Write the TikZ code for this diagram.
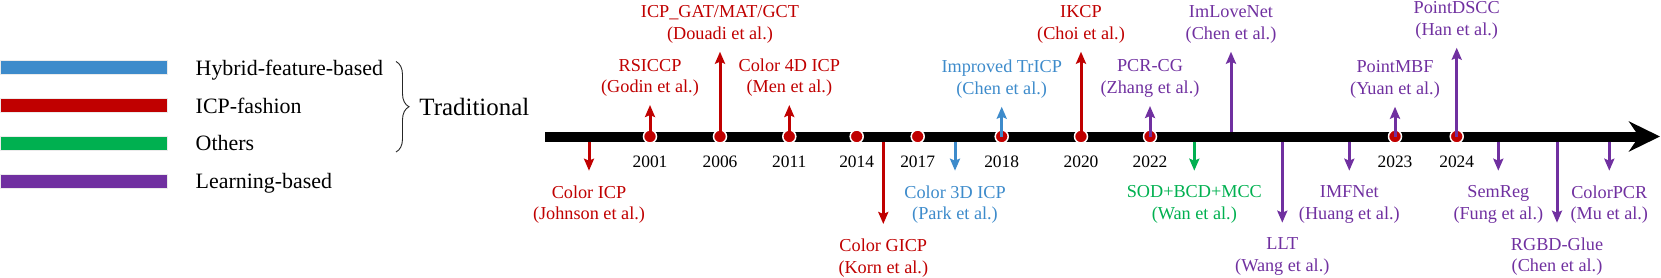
\documentclass[tikz,border=0pt]{standalone}
\usepackage{fontspec}
\setmainfont{Liberation Serif}
\usetikzlibrary{arrows.meta, positioning, decorations.pathreplacing}
\definecolor{hybblue}{RGB}{61,139,203}
\definecolor{icpred}{RGB}{192,0,0}
\definecolor{othgreen}{RGB}{0,176,80}
\definecolor{lrnpurple}{RGB}{112,48,160}

\begin{document}
\begin{tikzpicture}[x=1bp, y=-1bp,
    legbar/.style={draw=black!8, line width=1bp, minimum width=166bp, minimum height=14bp, inner sep=0pt},
    legtxt/.style={font=\fontsize{22}{26}\selectfont, inner sep=0pt, anchor=base west},
    yeardot/.style={circle, fill=icpred, draw=white, line width=1.5bp, minimum size=13bp, inner sep=0pt},
    yeartxt/.style={font=\fontsize{17.5}{20}\selectfont, inner sep=0pt},
    paper/.style={font=\fontsize{18.3}{22}\selectfont, align=center, inner sep=0pt},
    stem/.style={line width=3bp, -{Stealth[length=12bp, width=10bp, inset=2bp]}}]
    \useasboundingbox (0,0) rectangle (1661,277);

    \node[legbar, fill=hybblue] (hybbar) at (84,67.7) {};
    \node[legbar, fill=icpred] (icpbar) at (84,105.7) {};
    \node[legbar, fill=othgreen] (othbar) at (84,143.3) {};
    \node[legbar, fill=lrnpurple] (lrnbar) at (84,181) {};
    \node[legtxt] (hybtxt) at ([xshift=28bp, yshift=-7.3bp]hybbar.east) {Hybrid-feature-based};
    \node[legtxt] (icptxt) at ([xshift=28bp, yshift=-7.3bp]icpbar.east) {ICP-fashion};
    \node[legtxt] (othtxt) at ([xshift=28bp, yshift=-7.3bp]othbar.east) {Others};
    \node[legtxt] (lrntxt) at ([xshift=28bp, yshift=-7.3bp]lrnbar.east) {Learning-based};

    \coordinate (brtop) at (396,61.5);
    \coordinate (brbot) at (396,152);
    \draw[decorate, decoration={brace, amplitude=13bp}, line width=0.9bp, black!85] (brtop) -- (brbot)
        node[midway, right=23bp, inner sep=0pt, text=black, font=\fontsize{25}{30}\selectfont] (trad) {Traditional};

    \coordinate (tlstart) at (545,136.5);
    \coordinate (tlend) at (1660,136.5);
    \coordinate (tltop) at (545,131.5);
    \coordinate (tlbot) at (545,141.5);
    \draw[line width=10bp, -{Stealth[length=31bp, width=30bp, inset=10bp]}] (tlstart) -- (tlend);

    \node[yeardot] (d2001) at (650,136.5) {};
    \node[yeardot] (d2006) at (720,136.5) {};
    \node[yeardot] (d2011) at (789.3,136.5) {};
    \node[yeardot] (d2014) at (856.7,136.5) {};
    \node[yeardot] (d2017) at (917.7,136.5) {};
    \node[yeardot] (d2018) at (1001.7,136.5) {};
    \node[yeardot] (d2020) at (1081,136.5) {};
    \node[yeardot] (d2022) at (1150,136.5) {};
    \node[yeardot] (d2023) at (1395,136.5) {};
    \node[yeardot] (d2024) at (1456.7,136.5) {};

    \node[yeartxt, below=12bp of d2001] (y2001) {2001};
    \node[yeartxt, below=12bp of d2006] (y2006) {2006};
    \node[yeartxt, below=12bp of d2011] (y2011) {2011};
    \node[yeartxt, below=12bp of d2014] (y2014) {2014};
    \node[yeartxt, below=12bp of d2017] (y2017) {2017};
    \node[yeartxt, below=12bp of d2018] (y2018) {2018};
    \node[yeartxt, below=12bp of d2020] (y2020) {2020};
    \node[yeartxt, below=12bp of d2022] (y2022) {2022};
    \node[yeartxt, below=12bp of d2023] (y2023) {2023};
    \node[yeartxt, below=12bp of d2024] (y2024) {2024};

    \coordinate (rsiT) at (650,105);
    \coordinate (gatT) at (720,51.7);
    \coordinate (c4dT) at (789.3,105);
    \coordinate (trT) at (1001.7,106.7);
    \coordinate (ikT) at (1081,51.7);
    \coordinate (pcrT) at (1150,106);
    \coordinate (imlT) at (1231,51.7);
    \coordinate (mbfT) at (1395,106.7);
    \coordinate (dscT) at (1456.7,47.7);

    \draw[stem, icpred] (d2001.center) -- (rsiT);
    \draw[stem, icpred] (d2006.center) -- (gatT);
    \draw[stem, icpred] (d2011.center) -- (c4dT);
    \draw[stem, hybblue] (d2018.center) -- (trT);
    \draw[stem, icpred] (d2020.center) -- (ikT);
    \draw[stem, lrnpurple] (d2022.center) -- (pcrT);
    \draw[stem, lrnpurple] (imlT |- tltop) -- (imlT);
    \draw[stem, lrnpurple] (d2023.center) -- (mbfT);
    \draw[stem, lrnpurple] (d2024.center) -- (dscT);

    \node[paper, text=icpred, above=8bp of rsiT] (rsi) {RSICCP\\(Godin et al.)};
    \node[paper, text=icpred, above=8bp of gatT] (gat) {ICP\_GAT/MAT/GCT\\(Douadi et al.)};
    \node[paper, text=icpred, above=8bp of c4dT] (c4d) {Color 4D ICP\\(Men et al.)};
    \node[paper, text=hybblue, above=8bp of trT] (tr) {Improved TrICP\\(Chen et al.)};
    \node[paper, text=icpred, above=8bp of ikT] (ik) {IKCP\\(Choi et al.)};
    \node[paper, text=lrnpurple, above=8bp of pcrT] (pcr) {PCR-CG\\(Zhang et al.)};
    \node[paper, text=lrnpurple, above=8bp of imlT] (iml) {ImLoveNet\\(Chen et al.)};
    \node[paper, text=lrnpurple, above=8bp of mbfT] (mbf) {PointMBF\\(Yuan et al.)};
    \node[paper, text=lrnpurple, above=8bp of dscT] (dsc) {PointDSCC\\(Han et al.)};

    \coordinate (cicpT) at (589,170.7);
    \coordinate (gicpT) at (883.3,224);
    \coordinate (c3dT) at (955,170.7);
    \coordinate (sodT) at (1194.3,170.7);
    \coordinate (lltT) at (1282.3,222.7);
    \coordinate (imfT) at (1349.3,170.7);
    \coordinate (semT) at (1498.3,170.7);
    \coordinate (rgbT) at (1557,222.7);
    \coordinate (cpcrT) at (1609.3,170.7);

    \draw[stem, icpred] (cicpT |- tlbot) -- (cicpT);
    \draw[stem, icpred] (gicpT |- tlbot) -- (gicpT);
    \draw[stem, hybblue] (c3dT |- tlbot) -- (c3dT);
    \draw[stem, othgreen] (sodT |- tlbot) -- (sodT);
    \draw[stem, lrnpurple] (lltT |- tlbot) -- (lltT);
    \draw[stem, lrnpurple] (imfT |- tlbot) -- (imfT);
    \draw[stem, lrnpurple] (semT |- tlbot) -- (semT);
    \draw[stem, lrnpurple] (rgbT |- tlbot) -- (rgbT);
    \draw[stem, lrnpurple] (cpcrT |- tlbot) -- (cpcrT);

    \node[paper, text=icpred, below=14.5bp of cicpT] (cicp) {Color ICP\\(Johnson et al.)};
    \node[paper, text=icpred, below=14.5bp of gicpT] (gicp) {Color GICP\\(Korn et al.)};
    \node[paper, text=hybblue, below=14.5bp of c3dT] (c3d) {Color 3D ICP\\(Park et al.)};
    \node[paper, text=othgreen, below=14.5bp of sodT] (sod) {SOD+BCD+MCC\\(Wan et al.)};
    \node[paper, text=lrnpurple, below=14.5bp of lltT] (llt) {LLT\\(Wang et al.)};
    \node[paper, text=lrnpurple, below=14.5bp of imfT] (imf) {IMFNet\\(Huang et al.)};
    \node[paper, text=lrnpurple, below=14.5bp of semT] (sem) {SemReg\\(Fung et al.)};
    \node[paper, text=lrnpurple, below=14.5bp of rgbT] (rgb) {RGBD-Glue\\(Chen et al.)};
    \node[paper, text=lrnpurple, below=14.5bp of cpcrT] (cpcr) {ColorPCR\\(Mu et al.)};
\end{tikzpicture}
\end{document}
